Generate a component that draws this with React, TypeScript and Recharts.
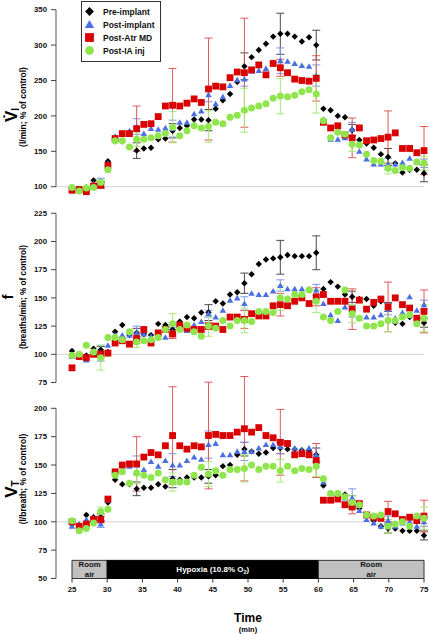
import React from "react";
import {
  ScatterChart,
  Scatter,
  XAxis,
  YAxis,
  ErrorBar,
  ReferenceLine,
  ReferenceArea,
  Legend,
} from "recharts";

const FONT = "'Liberation Sans', Arial, Helvetica, sans-serif";

// 50 evenly spaced samples between 25 and 75 min
const minutes = Array.from({ length: 50 }, (_, i) => 25 + (i * 50) / 49);
// samples that carry an SEM bar
const errorAt = [4, 9, 14, 19, 24, 29, 34, 39, 44, 49];
const timeTicks = [25, 30, 35, 40, 45, 50, 55, 60, 65, 70, 75];

// ---- VI (l/min; % of control)
const viPre = [98, 96, 99, 109, 103, 136, 164, 164, 156, 151, 154, 155, 167, 168, 179, 183, 186, 195, 195, 194, 210, 222, 231, 248, 270, 283, 293, 302, 312, 316, 316, 312, 305, 311, 300, 210, 208, 200, 198, 180, 166, 161, 155, 146, 142, 133, 120, 124, 124, 119];
const viPost = [96, 95, 97, 104, 108, 133, 171, 174, 179, 185, 175, 182, 181, 183, 182, 191, 191, 203, 207, 230, 217, 227, 243, 251, 252, 263, 264, 267, 276, 278, 277, 274, 271, 270, 257, 195, 167, 167, 169, 181, 150, 139, 132, 132, 132, 132, 134, 140, 134, 133];
const viAtr = [95, 96, 93, 101, 102, 130, 168, 175, 175, 182, 188, 189, 199, 214, 215, 214, 218, 224, 219, 238, 242, 241, 254, 262, 261, 265, 272, 258, 274, 268, 261, 252, 250, 249, 253, 191, 183, 186, 173, 169, 183, 165, 166, 168, 170, 176, 154, 154, 148, 151];
const viIA = [99, 94, 98, 99, 106, 124, 165, 165, 156, 167, 167, 169, 172, 175, 184, 172, 179, 186, 183, 185, 191, 189, 198, 201, 208, 211, 214, 217, 225, 228, 227, 229, 234, 237, 231, 193, 169, 177, 174, 160, 159, 146, 137, 136, 126, 123, 127, 126, 135, 133];
const viPreErr = [4, 11, 10, 15, 19, 29, 21, 8, 12, 12];
const viPostErr = [4, 11, 12, 10, 10, 18, 15, 10, 8, 6];
const viAtrErr = [4, 32, 52, 72, 77, 12, 32, 28, 37, 34];
const viIAErr = [4, 10, 22, 22, 31, 25, 27, 10, 8, 10];

// ---- f (breaths/min; % of control)
const fPre = [103, 100, 99, 105, 104, 102, 120, 126, 117, 119, 118, 117, 127, 126, 122, 129, 133, 132, 137, 137, 147, 145, 153, 155, 163, 171, 180, 184, 185, 186, 188, 187, 187, 187, 190, 158, 164, 160, 153, 151, 149, 149, 143, 147, 142, 128, 127, 133, 131, 128];
const fPost = [98, 98, 95, 101, 101, 108, 117, 117, 117, 119, 118, 116, 118, 115, 120, 127, 121, 126, 129, 136, 133, 139, 148, 150, 145, 154, 153, 153, 156, 161, 158, 158, 158, 158, 157, 145, 135, 130, 142, 138, 132, 133, 133, 135, 140, 132, 137, 151, 139, 144];
const fAtr = [88, 98, 97, 100, 100, 101, 110, 112, 109, 114, 122, 110, 119, 122, 118, 126, 123, 122, 122, 125, 125, 122, 133, 133, 131, 136, 134, 134, 143, 144, 143, 147, 150, 145, 151, 153, 147, 147, 147, 140, 148, 140, 146, 149, 142, 150, 144, 141, 132, 138];
const fIA = [99, 100, 108, 102, 97, 115, 115, 113, 120, 111, 112, 113, 115, 122, 127, 122, 126, 120, 116, 125, 123, 130, 125, 130, 130, 129, 138, 138, 137, 150, 149, 153, 153, 157, 147, 133, 130, 138, 157, 136, 132, 125, 125, 127, 130, 130, 133, 135, 127, 132];
const fPreErr = [3, 4, 4, 7, 9, 15, 15, 5, 4, 4];
const fPostErr = [7, 6, 4, 3, 6, 5, 5, 5, 5, 4];
const fAtrErr = [3, 4, 4, 3, 8, 10, 8, 18, 22, 19];
const fIAErr = [11, 5, 9, 9, 11, 11, 10, 8, 10, 12];

// ---- VT (l/breath; % of control)
const vtPre = [98, 97, 106, 104, 104, 117, 137, 133, 133, 129, 130, 130, 133, 131, 138, 137, 139, 139, 139, 140, 141, 149, 150, 159, 164, 162, 160, 161, 165, 165, 164, 164, 163, 163, 159, 132, 125, 123, 124, 118, 112, 105, 101, 96, 94, 94, 92, 92, 92, 88];
const vtPost = [96, 98, 102, 103, 98, 119, 142, 146, 149, 150, 146, 153, 149, 154, 150, 150, 154, 157, 155, 168, 169, 159, 159, 162, 162, 162, 165, 168, 168, 166, 168, 165, 163, 165, 159, 135, 125, 124, 121, 121, 110, 102, 99, 96, 101, 96, 99, 100, 96, 100];
const vtAtr = [100, 96, 98, 102, 102, 120, 144, 150, 151, 151, 157, 161, 159, 167, 176, 167, 164, 167, 166, 176, 177, 176, 176, 179, 182, 179, 183, 176, 174, 170, 169, 159, 160, 159, 154, 119, 119, 120, 115, 113, 116, 106, 104, 103, 109, 107, 102, 104, 101, 105];
const vtIA = [101, 92, 94, 99, 109, 111, 141, 144, 134, 143, 141, 139, 143, 137, 135, 135, 135, 141, 148, 142, 145, 141, 146, 146, 147, 150, 146, 149, 149, 145, 149, 145, 147, 146, 149, 138, 125, 125, 122, 117, 115, 106, 105, 106, 96, 98, 100, 96, 105, 103];
const vtPreErr = [3, 6, 8, 6, 6, 5, 6, 5, 4, 4];
const vtPostErr = [3, 8, 10, 12, 8, 6, 6, 8, 4, 4];
const vtAtrErr = [3, 24, 43, 47, 46, 29, 15, 6, 9, 14];
const vtIAErr = [4, 9, 8, 11, 12, 10, 9, 6, 6, 10];

const SERIES = [
  { name: "Pre-implant", color: "#000000", errColor: "#4a4a4a", shape: "diamond", r: 3.2 },
  { name: "Post-implant", color: "#4b6fe3", errColor: "#7f98ea", shape: "triangle", r: 3.1 },
  { name: "Post-Atr MD", color: "#d80000", errColor: "#e05a5a", shape: "square", r: 3.4 },
  { name: "Post-IA inj", color: "#8fe64c", errColor: "#a9e87a", shape: "circle", r: 3.5 },
];

const buildRows = (values: number[], errs: number[]) =>
  minutes.map((t, i) => {
    const k = errorAt.indexOf(i);
    return { t, v: values[i], e: k >= 0 ? errs[k] : undefined };
  });

const PANELS = [
  {
    key: "vi",
    top: 0,
    height: 200,
    mt: 9.7,
    mb: 13.3,
    domain: [100, 350],
    ticks: [100, 150, 200, 250, 300, 350],
    values: [viPre, viPost, viAtr, viIA],
    errors: [viPreErr, viPostErr, viAtrErr, viIAErr],
  },
  {
    key: "f",
    top: 195,
    height: 195,
    mt: 18.3,
    mb: 7.5,
    domain: [75, 225],
    ticks: [75, 100, 125, 150, 175, 200, 225],
    values: [fPre, fPost, fAtr, fIA],
    errors: [fPreErr, fPostErr, fAtrErr, fIAErr],
  },
  {
    key: "vt",
    top: 365,
    height: 269,
    mt: 43.3,
    mb: 35.5,
    domain: [50, 200],
    ticks: [50, 75, 100, 125, 150, 175, 200],
    values: [vtPre, vtPost, vtAtr, vtIA],
    errors: [vtPreErr, vtPostErr, vtAtrErr, vtIAErr],
  },
];

function Marker({ kind, cx, cy, fill, r }: any) {
  if (cx == null || cy == null) return null;
  if (kind === "diamond")
    return <path d={`M${cx},${cy - r}L${cx + r},${cy}L${cx},${cy + r}L${cx - r},${cy}Z`} fill={fill} />;
  if (kind === "triangle")
    return <path d={`M${cx},${cy - r}L${cx + r * 1.05},${cy + r * 0.8}L${cx - r * 1.05},${cy + r * 0.8}Z`} fill={fill} />;
  if (kind === "square")
    return <rect x={cx - r} y={cy - r} width={2 * r} height={2 * r} fill={fill} />;
  return <circle cx={cx} cy={cy} r={r} fill={fill} />;
}

function LegendBox() {
  return (
    <svg width={80} height={61} style={{ display: "block" }}>
      <rect x={0.5} y={0.5} width={79} height={60} fill="#fff" stroke="#333" />
      {SERIES.map((s, i) => (
        <g key={s.name}>
          <Marker kind={s.shape} cx={8.5} cy={10.5 + i * 13} fill={s.color} r={4.4} />
          <text x={22} y={13.5 + i * 13} fontSize={8.5} fontWeight="bold" fontFamily={FONT} fill="#111">
            {s.name}
          </text>
        </g>
      ))}
    </svg>
  );
}

function BandLabel({ viewBox, lines, color }: any) {
  if (!viewBox) return null;
  const cx = viewBox.x + viewBox.width / 2;
  return (
    <text textAnchor="middle" fontSize={7.8} fontWeight="bold" fontFamily={FONT} fill={color}>
      {lines.map((l: string, i: number) => (
        <tspan key={i} x={cx} y={viewBox.y + 6.9 + i * 9.7}>
          {l}
        </tspan>
      ))}
    </text>
  );
}

function HypoxiaLabel({ viewBox }: any) {
  if (!viewBox) return null;
  const cx = viewBox.x + viewBox.width / 2;
  return (
    <text x={cx} y={viewBox.y + viewBox.height / 2 + 2.8} textAnchor="middle" fontSize={8} fontWeight="bold" fontFamily={FONT} fill="#fff">
      Hypoxia (10.8% O<tspan fontSize={5.5} dy={2}>2</tspan>
      <tspan dy={-2}>)</tspan>
    </text>
  );
}

const tickStyle = { fontSize: 7.8, fontWeight: 700, fill: "#111", fontFamily: FONT };

function Panel({ cfg, index }: any) {
  const isLast = index === PANELS.length - 1;
  return (
    <div style={{ position: "absolute", left: 0, top: cfg.top }}>
      <ScatterChart
        width={429}
        height={cfg.height}
        margin={{ top: cfg.mt, right: 5, bottom: cfg.mb, left: 0 }}
      >
        <XAxis
          type="number"
          dataKey="t"
          domain={[25, 75]}
          ticks={timeTicks}
          padding={{ left: 16, right: 0 }}
          hide={!isLast}
          axisLine={false}
          tickLine={{ stroke: "#333" }}
          tickSize={4}
          tickMargin={4}
          height={20}
          tick={tickStyle}
          allowDataOverflow
        />
        <YAxis
          type="number"
          dataKey="v"
          domain={cfg.domain}
          ticks={cfg.ticks}
          width={56}
          allowDataOverflow
          axisLine={{ stroke: "#555" }}
          tickLine={{ stroke: "#444" }}
          tickSize={5}
          tickMargin={4}
          tick={tickStyle}
        />
        <ReferenceLine y={100} stroke="#d2d2d2" strokeWidth={1} ifOverflow="extendDomain" />
        {isLast && (
          <ReferenceArea x1={25} x2={30} y1={50} y2={66} fill="#c0c0c0" fillOpacity={1} stroke="#333" strokeWidth={1}
            label={<BandLabel lines={["Room", "air"]} color="#111" />} />
        )}
        {isLast && (
          <ReferenceArea x1={30} x2={60} y1={50} y2={66} fill="#000" fillOpacity={1} stroke="#000" strokeWidth={1}
            label={<HypoxiaLabel />} />
        )}
        {isLast && (
          <ReferenceArea x1={60} x2={75} y1={50} y2={66} fill="#c0c0c0" fillOpacity={1} stroke="#333" strokeWidth={1}
            label={<BandLabel lines={["Room", "air"]} color="#111" />} />
        )}
        {SERIES.map((s, si) => (
          <Scatter
            key={s.name}
            name={s.name}
            data={buildRows(cfg.values[si], cfg.errors[si])}
            fill={s.color}
            isAnimationActive={false}
            shape={(p: any) => <Marker kind={s.shape} cx={p.cx} cy={p.cy} fill={s.color} r={s.r} />}
          >
            <ErrorBar dataKey="e" direction="y" width={4} stroke={s.errColor} strokeWidth={1} isAnimationActive={false} />
          </Scatter>
        ))}
        {index === 0 && (
          <Legend
            layout="vertical"
            align="center"
            verticalAlign="middle"
            wrapperStyle={{ left: 81, top: 1, width: 80, height: 61 }}
            content={() => <LegendBox />}
          />
        )}
      </ScatterChart>
    </div>
  );
}

export default function App() {
  return (
    <div style={{ position: "absolute", left: 0, top: 0, width: 429, height: 634, background: "#fff", fontFamily: FONT }}>
      <style>{`.recharts-surface { overflow: visible; } .recharts-surface g[clip-path] { clip-path: none !important; }`}</style>
      {PANELS.map((cfg, i) => (
        <Panel key={cfg.key} cfg={cfg} index={i} />
      ))}
      <svg width={429} height={634} style={{ position: "absolute", left: 0, top: 0, pointerEvents: "none" }}>
        <g fontFamily={FONT} fontWeight="bold" fill="#000">
          <text transform="translate(17,115) rotate(-90)" textAnchor="middle" fontSize={17}>
            V&#775;<tspan fontSize={10} dy={2}>I</tspan>
          </text>
          <text transform="translate(25.5,107) rotate(-90)" textAnchor="middle" fontSize={8.5}>
            (l/min; % of control)
          </text>
          <text transform="translate(13,297) rotate(-90)" textAnchor="middle" fontSize={15}>
            f
          </text>
          <text transform="translate(25.5,297) rotate(-90)" textAnchor="middle" fontSize={8.2}>
            (breaths/min; % of control)
          </text>
          <text transform="translate(17,489) rotate(-90)" textAnchor="middle" fontSize={17}>
            V<tspan fontSize={10} dy={2}>T</tspan>
          </text>
          <text transform="translate(25.5,479) rotate(-90)" textAnchor="middle" fontSize={8.5}>
            (l/breath; % of control)
          </text>
          <text x={248} y={621.5} textAnchor="middle" fontSize={12}>
            Time
          </text>
          <text x={248} y={632} textAnchor="middle" fontSize={7.5}>
            (min)
          </text>
        </g>
      </svg>
    </div>
  );
}
